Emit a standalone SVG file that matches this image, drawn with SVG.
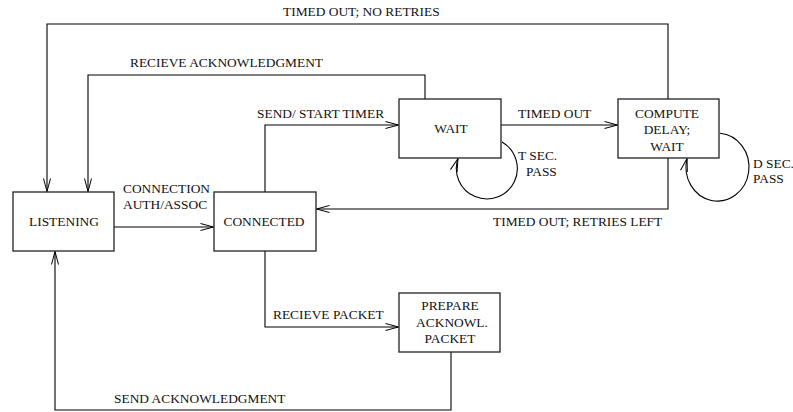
<svg xmlns="http://www.w3.org/2000/svg" width="793" height="412" viewBox="0 0 793 412">
<style>
text{font-family:"Liberation Serif","Times New Roman",serif;font-size:13.4px;fill:#111}
.box{fill:#fff;stroke:#222;stroke-width:1.3}
.c{fill:none;stroke:#000;stroke-width:1.1;marker-end:url(#ah)}
.m{text-anchor:middle}
</style>
<defs>
<marker id="ah" markerUnits="userSpaceOnUse" markerWidth="14" markerHeight="8" refX="13" refY="3.5" orient="auto" overflow="visible">
<path d="M0,0 L13,3.5 L0,7" fill="none" stroke="#000" stroke-width="1"/>
</marker>
</defs>
<rect width="793" height="412" fill="#fff"/>
<g id="connectors">
<path class="c" d="M668,99 V24 H47 V191.5"/>
<text x="283" y="16">TIMED OUT; NO RETRIES</text>
<path class="c" d="M425,99 V75 H88 V191.5"/>
<text x="130" y="67">RECIEVE ACKNOWLEDGMENT</text>
<path class="c" d="M265,192 V125 H398.5"/>
<text x="257" y="117.5">SEND/ START TIMER</text>
<path class="c" d="M114,227 H213.5"/>
<text x="123" y="193">CONNECTION</text>
<text x="123" y="209">AUTH/ASSOC</text>
<path class="c" d="M501,125 H617.5"/>
<text x="518" y="117.5">TIMED OUT</text>
<path class="c" d="M668,158 V209 H316.5"/>
<text x="493" y="225.7">TIMED OUT; RETRIES LEFT</text>
<path class="c" d="M265,251 V327 H398.5"/>
<text x="273" y="319.3">RECIEVE PACKET</text>
<path class="c" d="M451,352 V410 H55 V251.5"/>
<text x="114" y="402.7">SEND ACKNOWLEDGMENT</text>
<path class="c" d="M502,142 A30.5,30.5 0 1 1 458,158.5"/>
<text x="518" y="160">T SEC.</text>
<text x="526" y="175.7">PASS</text>
<path class="c" d="M720,133.2 A31.5,34 0 1 1 687,158.5"/>
<text x="753" y="167.7">D SEC.</text>
<text x="753" y="183.3">PASS</text>
</g>
<g id="listening">
<rect class="box" x="13" y="192" width="101" height="59"/>
<text class="m" x="64" y="225.7">LISTENING</text>
</g>
<g id="connected">
<rect class="box" x="214" y="192" width="102" height="59"/>
<text class="m" x="264" y="225.7">CONNECTED</text>
</g>
<g id="wait">
<rect class="box" x="399" y="99" width="102" height="59"/>
<text class="m" x="451" y="132.5">WAIT</text>
</g>
<g id="compute">
<rect class="box" x="618" y="99" width="101" height="59"/>
<text class="m" x="667" y="117.5">COMPUTE</text>
<text class="m" x="667" y="134.3">DELAY;</text>
<text class="m" x="667" y="150.7">WAIT</text>
</g>
<g id="prepare">
<rect class="box" x="399" y="293" width="101" height="59"/>
<text class="m" x="450" y="309.5">PREPARE</text>
<text class="m" x="452" y="326.5">ACKNOWL.</text>
<text class="m" x="450" y="343.3">PACKET</text>
</g>
</svg>
